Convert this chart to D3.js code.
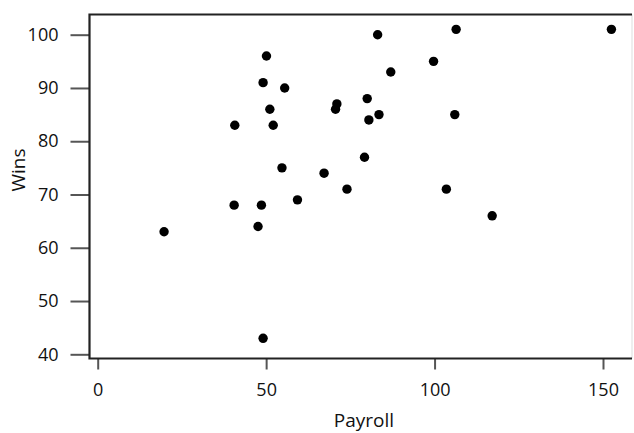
<!DOCTYPE html>
<html>
<head>
<meta charset="utf-8">
<script src="https://cdn.jsdelivr.net/npm/d3@7"></script>
<style>
  body { margin: 0; background: #fff; }
  text { font-family: "Open Sans", "DejaVu Sans", sans-serif; fill: #111; }
</style>
</head>
<body>
<div id="chart"></div>
<script>
// payroll (millions) and wins
var payroll = [19.7, 40.7, 40.5, 47.6, 48.6, 49.1, 49.1, 50.1, 51.1, 52.1, 54.7, 55.5, 59.3, 67.2, 71, 70.6,
               74, 79.2, 80, 80.5, 83.1, 83.5, 87, 99.7, 103.5, 106.4, 106, 117.1, 152.5];
var wins    = [63, 83, 68, 64, 68, 91, 43, 96, 86, 83, 75, 90, 69, 74, 87, 86,
               71, 77, 88, 84, 100, 85, 93, 95, 71, 101, 85, 66, 101];
var xTicks = [0, 50, 100, 150];
var yTicks = [40, 50, 60, 70, 80, 90, 100];

var width = 634;
var height = 433;
var box = {left: 89.5, top: 14.5, right: 632, bottom: 358.5};

var svg = d3.select("#chart")
    .append("svg")
    .attr("width", width)
    .attr("height", height);

// 比例尺
var xScale = d3.scaleLinear()
    .domain([0, 150])
    .range([97.7, 603]);
var yScale = d3.scaleLinear()
    .domain([40, 100])
    .range([354.3, 34.7]);

// right edge of the box is faint
svg.append("line")
    .attr("x1", box.right).attr("x2", box.right)
    .attr("y1", box.top).attr("y2", box.bottom)
    .attr("stroke", "#ddd")
    .attr("stroke-width", 1);

// y axis
var gy = svg.append("g")
    .attr("transform", "translate(" + box.left + ",0)")
    .call(d3.axisLeft(yScale).tickValues(yTicks).tickSize(19).tickPadding(12).tickSizeOuter(0));
gy.select(".domain").remove();
gy.selectAll(".tick line").attr("stroke", "#555").attr("stroke-width", 2);
gy.selectAll(".tick text").style("font-size", "18px").attr("fill", "#111");

// x axis
var gx = svg.append("g")
    .attr("transform", "translate(0," + box.bottom + ")")
    .call(d3.axisBottom(xScale).tickValues(xTicks).tickSize(11).tickPadding(14));
gx.select(".domain").remove();
gx.selectAll(".tick line").attr("stroke", "#555").attr("stroke-width", 2);
gx.selectAll(".tick text").style("font-size", "18px").attr("fill", "#111");

// box: left, top, bottom
svg.append("path")
    .attr("d", "M" + box.right + "," + box.top + "H" + box.left + "V" + box.bottom + "H" + box.right)
    .attr("fill", "none")
    .attr("stroke", "#222")
    .attr("stroke-width", 2.2);

// points
svg.append("g")
    .selectAll("circle")
    .data(payroll)
    .enter().append("circle")
    .attr("cx", function (d) { return xScale(d); })
    .attr("cy", function (d, i) { return yScale(wins[i]); })
    .attr("r", 4.7)
    .attr("fill", "#000");

// axis titles
svg.append("text")
    .attr("x", 364)
    .attr("y", 427)
    .attr("text-anchor", "middle")
    .style("font-size", "19px")
    .text("Payroll");
svg.append("text")
    .attr("transform", "translate(25,170) rotate(-90)")
    .attr("text-anchor", "middle")
    .style("font-size", "19px")
    .text("Wins");
</script>
</body>
</html>
